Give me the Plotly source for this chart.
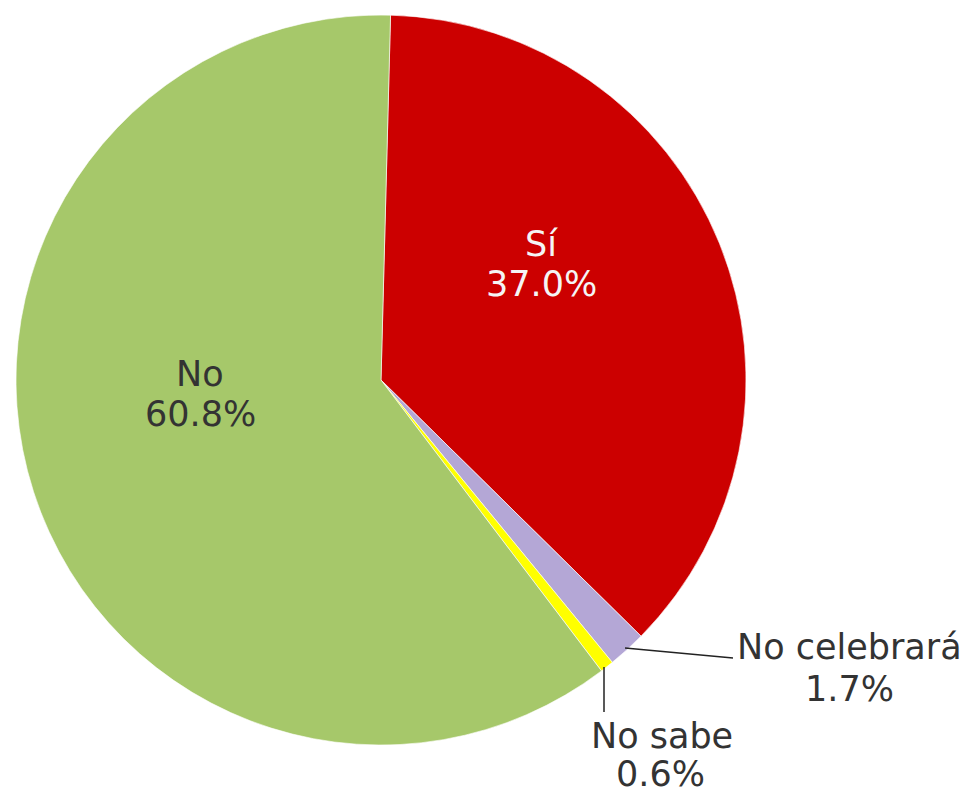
import plotly.graph_objects as go

labels = ["Sí", "No celebrará", "No sabe", "No"]
values = [37.0, 1.7, 0.6, 60.8]
colors = ["#CC0000", "#B4A7D6", "#FFFF00", "#A6C86A"]

W, H = 968, 793
OFF = 8  # page body margin offset
cx, cy, r = 381 - OFF, 380 - OFF, 365

fig = go.Figure()
fig.add_trace(go.Pie(
    labels=labels, values=values, sort=False, direction="clockwise", rotation=1.5,
    marker=dict(colors=colors, line=dict(color="rgba(255,255,255,0.6)", width=1)),
    textinfo="none", hoverinfo="label+percent", showlegend=False,
    domain=dict(x=[(cx - r) / W, (cx + r) / W], y=[1 - (cy + r) / H, 1 - (cy - r) / H]),
))

font = dict(family="DejaVu Sans, Verdana, sans-serif", size=35, color="#333333")

def ann(x, y, text, color="#333333"):
    fig.add_annotation(x=(x - OFF) / W, y=1 - (y - OFF) / H, xref="paper", yref="paper",
                       text=text, showarrow=False, font=dict(font, color=color),
                       xanchor="center", yanchor="middle")

ann(541, 244, labels[0], "#F5F5F5")
ann(541, 284, f"{values[0]:.1f}%", "#F5F5F5")
ann(200, 374, labels[3])
ann(200, 414, f"{values[3]:.1f}%")
ann(849, 647, labels[1])
ann(849, 689, f"{values[1]:.1f}%")
ann(662, 736, labels[2])
ann(660, 774, f"{values[2]:.1f}%")

def seg(x0, y0, x1, y1):
    fig.add_shape(type="line", xref="paper", yref="paper",
                  x0=(x0 - OFF) / W, y0=1 - (y0 - OFF) / H,
                  x1=(x1 - OFF) / W, y1=1 - (y1 - OFF) / H,
                  line=dict(color="#222222", width=1.5))

seg(625, 648, 733, 658)
seg(604, 667, 604, 712)

fig.update_layout(width=W, height=H, margin=dict(l=0, r=0, t=0, b=0),
                  paper_bgcolor="white", plot_bgcolor="white")
fig.write_html("out.html")
